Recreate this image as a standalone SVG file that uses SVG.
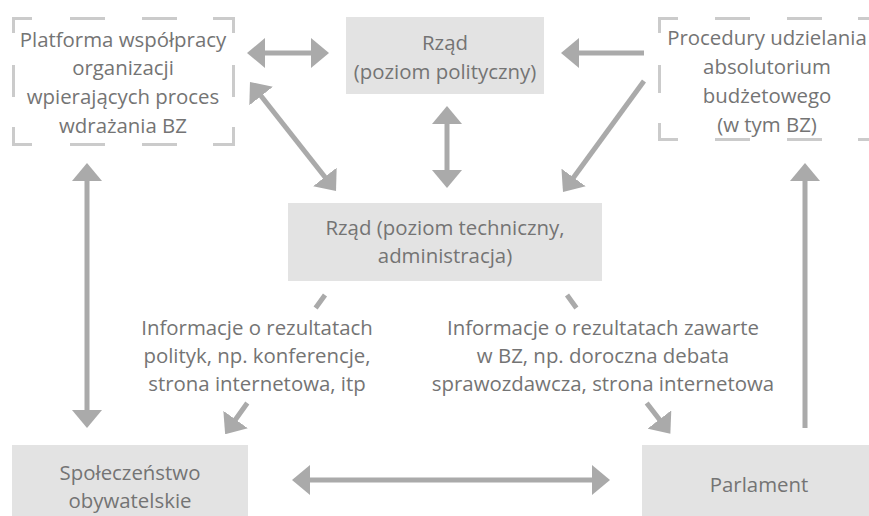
<svg xmlns="http://www.w3.org/2000/svg" width="869" height="516" viewBox="0 0 869 516">
<style>
.box{fill:#e3e3e3}
.dash{fill:none;stroke:#cbcbcb;stroke-width:3}
.t{font-family:"Open Sans","Liberation Sans",sans-serif;font-size:20.4px;fill:#747474;text-anchor:middle}
.c{fill:none;stroke:#aaaaaa;stroke-width:5}
.a{marker-end:url(#ah)}
.b{marker-start:url(#ah);marker-end:url(#ah)}
</style>
<defs>
<marker id="ah" viewBox="0 0 18 30" refX="1" refY="15" markerWidth="18" markerHeight="30" markerUnits="userSpaceOnUse" orient="auto-start-reverse">
<path d="M0,0 L18,15 L0,30 z" fill="#aaaaaa"/>
</marker>
</defs>
<rect width="869" height="516" fill="#ffffff"/>
<g id="connectors">
<path class="c b" d="M264,53 L312,53"/>
<path class="c a" d="M644,53 L578,53"/>
<path class="c b" d="M447,123 L447,171"/>
<path class="c b" d="M260.5,95.3 L325.5,177.7"/>
<path class="c a" d="M644,81 L573,178.3"/>
<path class="c b" d="M87,180 L87,411"/>
<path class="c a" d="M805,428 L805,180"/>
<path class="c b" d="M309,480 L593,480"/>
<path class="c a" d="M325,295 L315.6,308 M247.3,403 L235,420.3"/>
<path class="c a" d="M567,295 L576.4,308 M646.7,403 L660,420.3"/>
</g>
<g id="platforma">
<path class="dash" d="M13.5,33 V18.5 H32 M70,18.5 H105 M142,18.5 H177 M213,18.5 H233.5 V33 M233.5,65 V97 M233.5,127 V144.5 H213 M177,144.5 H142 M105,144.5 H70 M32,144.5 H13.5 V127 M13.5,97 V65"/>
<text class="t" x="123" y="47">Platforma współpracy</text>
<text class="t" x="123" y="75">organizacji</text>
<text class="t" x="123" y="104">wpierających proces</text>
<text class="t" x="123" y="133">wdrażania BZ</text>
</g>
<g id="rzad-polityczny">
<rect class="box" x="346" y="17" width="198" height="77"/>
<text class="t" x="445" y="50">Rząd</text>
<text class="t" x="445" y="79">(poziom polityczny)</text>
</g>
<g id="procedury">
<path class="dash" d="M659.5,33 V18.5 H678 M715,18.5 H750 M787,18.5 H822 M858,18.5 H870 M659.5,65 V93 M659.5,123 V139.5 H678 M715,139.5 H750 M787,139.5 H822 M858,139.5 H870"/>
<text class="t" x="767" y="45">Procedury udzielania</text>
<text class="t" x="767" y="74">absolutorium</text>
<text class="t" x="767" y="103">budżetowego</text>
<text class="t" x="767" y="132">(w tym BZ)</text>
</g>
<g id="rzad-techniczny">
<rect class="box" x="288" y="203" width="314" height="78"/>
<text class="t" x="445" y="235">Rząd (poziom techniczny,</text>
<text class="t" x="445" y="263">administracja)</text>
</g>
<g id="label-left">
<text class="t" x="257" y="335">Informacje o rezultatach</text>
<text class="t" x="257" y="363">polityk, np. konferencje,</text>
<text class="t" x="257" y="391">strona internetowa, itp</text>
</g>
<g id="label-right">
<text class="t" x="603" y="335">Informacje o rezultatach zawarte</text>
<text class="t" x="603" y="363">w BZ, np. doroczna debata</text>
<text class="t" x="603" y="391">sprawozdawcza, strona internetowa</text>
</g>
<g id="spoleczenstwo">
<rect class="box" x="12" y="445" width="236" height="71"/>
<text class="t" x="130" y="480">Społeczeństwo</text>
<text class="t" x="130" y="508">obywatelskie</text>
</g>
<g id="parlament">
<rect class="box" x="642" y="445" width="227" height="71"/>
<text class="t" x="759" y="492">Parlament</text>
</g>
</svg>
